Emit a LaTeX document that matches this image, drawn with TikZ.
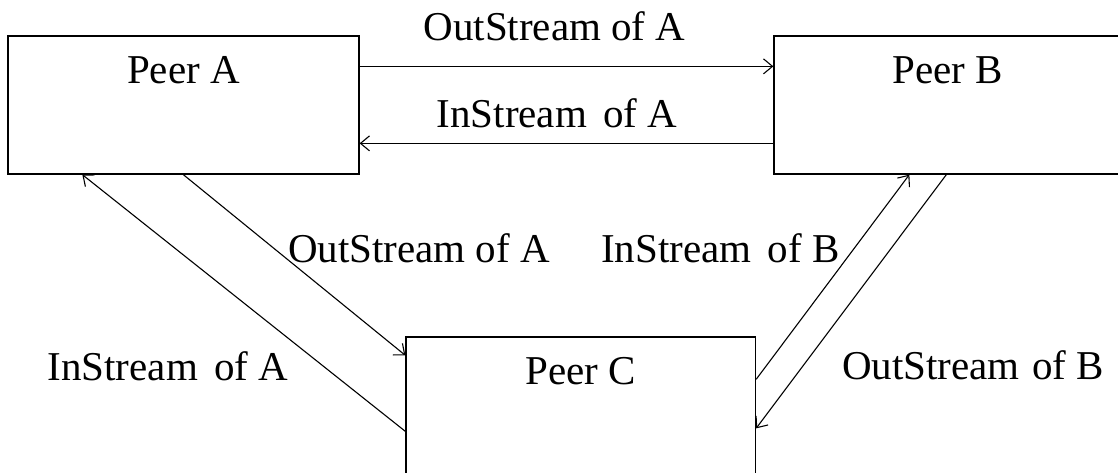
\documentclass[tikz,border=0pt]{standalone}
\usepackage{fontspec}
\setmainfont{Liberation Serif}
\usetikzlibrary{arrows.meta}
\tikzset{
  peerbox/.style={draw, line width=1.3pt, rectangle, inner sep=0pt, fill=none},
  txt/.style={inner sep=0pt, anchor=base, font=\fontsize{41}{48}\selectfont},
  arr/.style={line width=1.1pt, -{Straight Barb[length=9pt,width=15pt,line width=1.1pt]}}
}
\begin{document}
\begin{tikzpicture}[x=1pt,y=-1pt]
\useasboundingbox (0,0) rectangle (1118,472);
\fill[white] (0,0) rectangle (1118,472);
\clip (0,0) rectangle (1118,472);
% boxes
\node[peerbox, minimum width=351pt, minimum height=138pt] (A) at (183.5,105) {};
\node[peerbox, minimum width=347pt, minimum height=138pt] (B) at (947.5,105) {};
\node[peerbox, minimum width=349.5pt, minimum height=160pt] (C) at (580.75,417) {};
% box titles
\node[txt] (At) at (183.5,83) {Peer A};
\node[txt] (Bt) at (947.5,83) {Peer B};
\node[txt] (Ct) at (580.5,384) {Peer C};
% horizontal connectors
\draw[arr] ([yshift=-31pt]A.north east) -- ([yshift=-31pt]B.north west);
\draw[arr] ([yshift=-108pt]B.north west) -- ([yshift=-108pt]A.north east);
% diagonal connectors
\draw[arr] ([xshift=176pt]A.south west) -- ([yshift=-19pt]C.north west);
\draw[arr] ([yshift=-95pt]C.north west) -- ([xshift=75pt]A.south west);
\draw[arr] ([yshift=-43pt]C.north east) -- ([xshift=136pt]B.south west);
\draw[arr] ([xshift=173pt]B.south west) -- ([yshift=-92pt]C.north east);
% labels
\node[txt] (l1) at (554.5,40) {OutStream of A};
\node[txt] (l2) at (557,127) {InStream\hspace{0.4em}of A};
\node[txt] (l3) at (419,262) {OutStream of A};
\node[txt] (l4) at (720.5,262) {InStream\hspace{0.4em}of B};
\node[txt] (l5) at (168,380) {InStream\hspace{0.4em}of A};
\node[txt] (l6) at (973,379) {OutStream\hspace{0.3em}of B};
\end{tikzpicture}
\end{document}
